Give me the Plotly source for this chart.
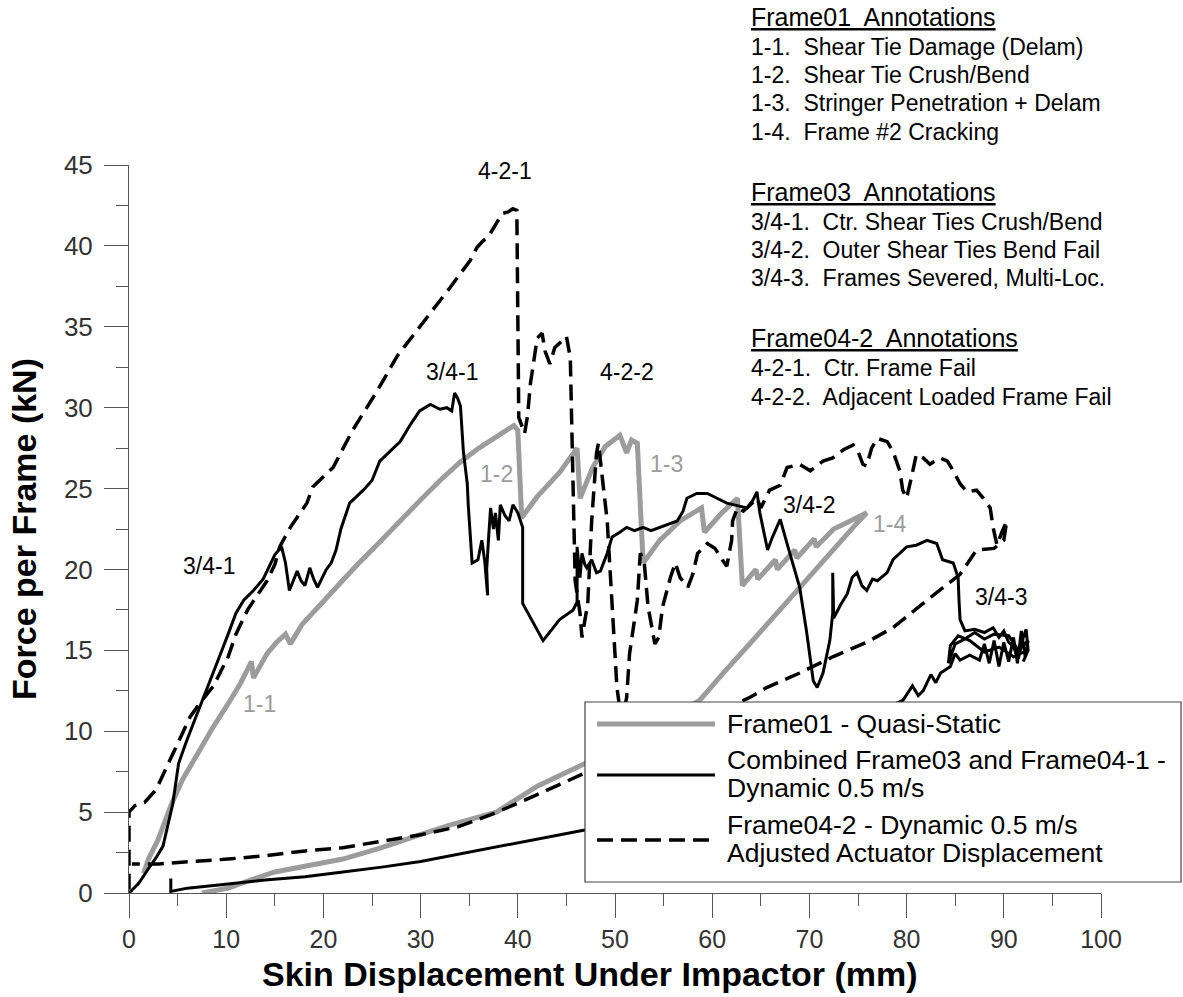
import plotly.graph_objects as go

# ---------------- data ----------------
# Frame01 - quasi-static test (loading, then unloading)
frame01_x = [1.5, 2.0, 3.0, 4.3, 5.5, 7.1, 8.6, 10.2, 11.5, 12.6,
             12.8, 14.2, 15.2, 16.1, 16.6, 17.8, 19.3, 21.7, 23.5, 25.8,
             28.0, 30.0, 32.0, 34.0, 36.0, 38.0, 39.6, 40.0, 40.4, 42.0,
             44.3, 46.1, 46.4, 47.7, 49.0, 50.5, 51.2, 51.7, 52.3, 52.6,
             52.9, 54.6, 56.7, 58.9, 59.2, 61.0, 62.6, 63.1, 64.5, 64.7,
             66.5, 66.7, 68.5, 68.7, 70.5, 70.7, 72.5, 74.2, 75.9, 74.5,
             72.0, 70.0, 67.0, 64.0, 61.0, 58.7, 55.0, 52.0, 49.0, 46.9,
             42.0, 37.8, 33.0, 29.9, 26.0, 22.0, 18.0, 15.0, 12.5, 10.2,
             7.5]
frame01_y = [1.2, 2.1, 3.3, 5.4, 7.0, 8.7, 10.2, 11.7, 13.0, 14.3,
             13.3, 14.8, 15.5, 16.0, 15.4, 16.6, 17.6, 19.1, 20.3, 21.7,
             23.1, 24.3, 25.5, 26.6, 27.5, 28.3, 28.9, 28.6, 23.2, 24.5,
             26.0, 27.5, 24.4, 26.3, 27.6, 28.3, 27.2, 28.0, 27.8, 24.0,
             20.4, 21.8, 23.0, 23.8, 22.3, 23.5, 24.4, 19.0, 20.0, 19.4,
             20.6, 20.0, 21.2, 20.7, 21.9, 21.4, 22.5, 23.0, 23.5, 22.6,
             20.9, 19.5, 17.5, 15.5, 13.5, 11.9, 10.6, 9.5, 8.6, 8.0,
             6.6, 5.0, 4.2, 3.6, 2.8, 2.1, 1.6, 1.3, 0.8, 0.3,
             0.0]

# Combined Frame03 / Frame04-1 - dynamic 0.5 m/s (None separates the reload branch)
combined_x = [0.0, 1.0, 2.0, 2.8, 3.5, 4.1, 4.5, 5.1, 5.8, 6.7,
              7.5, 8.3, 9.3, 10.2, 11.0, 11.8, 12.8, 13.8, 14.5, 15.0,
              15.7, 16.1, 16.5, 17.3, 17.7, 18.1, 18.6, 19.0, 19.4, 19.9,
              20.3, 20.8, 21.3, 21.8, 22.7, 24.1, 25.0, 25.8, 27.0, 27.9,
              29.0, 29.9, 31.0, 32.0, 32.7, 33.2, 33.5, 33.8, 34.1, 34.4,
              34.8, 34.9, 35.3, 35.9, 36.3, 36.6, 36.9, 36.8, 37.0, 37.2,
              37.5, 37.7, 38.0, 38.2, 38.7, 39.1, 39.5, 40.0, 40.5, 40.5,
              42.6, 44.3, 45.7, 46.1, 46.1, 46.4, 46.6, 46.9, 47.1, 47.6,
              48.1, 48.5, 49.2, 49.7, 50.5, 51.2, 52.0, 52.9, 53.7, 54.6,
              55.5, 56.4, 57.0, 57.4, 58.4, 59.5, 60.5, 61.5, 62.9, 63.6,
              64.2, 64.6, 64.9, 65.2, 65.7, 66.2, 67.0, 67.7, 69.0, 69.7,
              70.4, 70.8, 71.4, 72.1, 72.4, 72.4, 72.5, 73.2, 73.9, 74.4,
              74.9, 75.4, 75.9, 76.5, 77.0, 78.0, 78.6, 79.3, 80.0, 81.0,
              82.1, 83.1, 83.7, 84.8, 85.3, 85.4, 85.5, 86.0, 87.0, 88.0,
              88.9, 89.5, 90.0, 90.5, 91.0, 91.5, 92.0, 92.3, 92.5, 92.0,
              None,
              4.3, 4.3, 6.0, 8.0, 10.2, 14.0, 18.1, 22.0, 26.0, 30.0,
              33.9, 37.0, 41.7, 44.0, 46.9, 52.0, 57.0, 62.0, 67.0, 72.0,
              76.0, 78.5, 79.6, 80.6, 81.2, 81.7, 82.5, 83.0, 83.5, 84.5,
              85.0, 85.5, 86.5, 87.5, 88.0, 88.5, 89.0, 89.5, 90.0, 90.5,
              91.0, 91.4, 91.8, 92.2, 92.5, 91.5, 90.5, 89.0, 88.0, 87.0,
              86.0, 85.0, 84.3, 84.5, 85.3, 86.5, 88.0, 89.5, 91.0, 92.4]
combined_y = [0.0, 0.6, 1.5, 2.2, 2.9, 4.5, 5.5, 8.0, 9.2, 10.6,
              11.8, 13.0, 14.6, 16.0, 17.3, 18.1, 18.7, 19.4, 20.3, 20.9,
              21.4, 20.4, 18.7, 19.9, 19.3, 19.0, 20.1, 19.4, 18.9, 19.5,
              20.0, 20.4, 21.2, 22.5, 24.1, 24.9, 25.5, 26.7, 27.4, 27.9,
              29.0, 29.8, 30.2, 29.9, 30.0, 29.8, 30.9, 30.6, 30.1, 27.3,
              25.3, 24.0, 20.4, 20.6, 21.8, 20.5, 18.4, 20.0, 22.0, 23.8,
              22.5, 23.5, 21.8, 24.0, 23.3, 23.0, 24.0, 23.5, 22.6, 17.9,
              15.6, 16.9, 17.5, 18.0, 21.4, 19.5, 21.0, 20.3, 20.1, 20.6,
              19.8, 19.9, 21.0, 22.0, 22.3, 22.6, 22.4, 22.6, 22.4, 22.6,
              22.8, 23.0, 23.6, 24.4, 24.7, 24.7, 24.4, 24.1, 23.9, 23.8,
              24.3, 24.8, 23.5, 22.6, 21.2, 22.0, 23.1, 21.6, 18.9, 16.2,
              13.1, 12.7, 13.6, 15.6, 17.3, 19.8, 17.0, 17.8, 18.5, 19.5,
              19.8, 19.0, 18.7, 19.4, 19.3, 19.8, 20.6, 21.0, 21.4, 21.5,
              21.8, 21.6, 20.6, 20.4, 19.5, 18.0, 16.9, 16.2, 16.3, 16.1,
              16.4, 15.8, 16.2, 15.5, 15.2, 14.5, 15.8, 16.3, 15.0, 14.3,
              None,
              0.9, 0.1, 0.3, 0.4, 0.55, 0.8, 1.0, 1.3, 1.6, 1.95,
              2.4, 2.8, 3.3, 3.6, 3.9, 4.6, 5.5, 6.6, 7.9, 9.4,
              10.8, 11.6, 11.9, 12.8, 12.2, 12.5, 13.5, 13.0, 13.6, 14.0,
              14.8, 14.4, 14.7, 14.4, 15.4, 14.2, 15.6, 14.0, 15.5, 14.3,
              15.8, 14.2, 16.2, 14.6, 15.6, 15.0, 15.9, 16.0, 15.7, 16.1,
              15.7, 15.4, 14.2, 15.3, 15.9, 15.6, 14.9, 15.2, 14.6, 15.0]

# Frame04-2 - dynamic 0.5 m/s, adjusted actuator displacement
frame04_2_x = [0.0, 0.0, 0.6, 1.6, 2.8, 3.9, 5.1, 6.3, 7.5, 8.7,
               10.2, 11.0, 12.2, 13.2, 14.2, 15.0, 15.5, 16.6, 18.3, 18.9,
               21.0, 23.0, 25.5, 27.6, 31.0, 33.0, 35.1, 35.8, 36.4, 37.0,
               37.9, 38.4, 39.0, 39.5, 39.9, 40.0, 40.1, 40.7, 41.0, 41.3,
               41.6, 42.0, 42.5, 42.8, 43.3, 43.8, 44.5, 45.0, 45.4, 45.6,
               45.9, 46.4, 46.6, 47.2, 47.6, 48.1, 48.3, 48.8, 49.2, 49.5,
               49.8, 50.2, 50.7, 51.2, 51.5, 52.3, 52.6, 53.0, 53.4, 54.1,
               54.5, 54.9, 55.7, 56.2, 56.7, 57.5, 58.0, 58.5, 59.5, 60.3,
               60.8, 61.5, 62.0, 62.1, 62.6, 63.2, 64.1, 64.6, 65.0, 65.9,
               67.0, 67.7, 69.0, 70.1, 71.4, 72.4, 73.5, 74.5, 75.0, 75.5,
               75.9, 76.4, 77.0, 78.0, 78.6, 79.3, 79.6, 80.0, 80.5, 81.0,
               81.7, 82.4, 83.4, 84.2, 84.8, 85.5, 86.2, 87.2, 87.9, 88.6,
               88.9, 89.3, 89.8, 90.3, 90.0, 89.0, 87.2, 85.5, 82.1, 78.6,
               75.9, 72.4, 69.0, 65.6, 63.9, 58.0, 52.0, 46.9, 41.7, 37.5,
               33.9, 30.0, 26.0, 22.0, 18.1, 14.0, 10.2, 6.0, 3.1, 0.3]
frame04_2_y = [0.2, 5.0, 5.4, 5.6, 6.4, 7.8, 9.3, 10.9, 11.9, 12.8,
               14.6, 16.0, 17.5, 18.4, 19.3, 20.3, 21.4, 22.6, 24.1, 25.1,
               26.3, 28.6, 31.0, 33.2, 35.8, 37.4, 39.1, 39.9, 40.3, 40.6,
               41.5, 42.0, 42.1, 42.3, 42.2, 33.1, 29.4, 28.4, 29.5, 31.5,
               32.7, 34.3, 34.6, 33.5, 32.7, 33.7, 34.1, 34.4, 33.1, 27.3,
               19.3, 17.3, 15.8, 17.9, 23.0, 27.2, 27.8, 25.1, 23.0, 19.9,
               16.8, 12.7, 10.5, 12.1, 14.8, 18.1, 21.0, 20.5, 17.7, 15.4,
               15.8, 17.7, 19.5, 20.4, 19.5, 18.9, 19.7, 21.0, 21.6, 21.3,
               20.8, 20.2, 21.8, 23.0, 23.8, 23.6, 24.1, 24.4, 23.8, 24.9,
               25.2, 26.3, 26.5, 26.1, 26.7, 26.9, 27.4, 27.7, 27.3, 26.5,
               26.4, 27.5, 28.1, 27.9, 27.3, 26.1, 24.9, 24.4, 25.7, 27.1,
               26.9, 26.5, 26.9, 26.7, 26.1, 25.3, 24.8, 24.9, 24.4, 23.8,
               22.6, 21.5, 22.3, 23.0, 21.8, 21.3, 21.2, 19.7, 18.1, 16.4,
               15.5, 14.6, 13.6, 12.7, 12.1, 10.4, 8.8, 7.4, 6.0, 4.9,
               4.1, 3.6, 3.2, 2.8, 2.6, 2.3, 2.1, 1.9, 1.8, 1.8]

series_names = ["Frame01 - Quasi-Static",
                "Combined Frame03 and Frame04-1 -<br>Dynamic 0.5 m/s",
                "Frame04-2 - Dynamic 0.5 m/s<br>Adjusted Actuator Displacement"]

# event labels placed on the curves: (text, x, y, colour group)
event_labels = [("4-2-1", 38.7, 44.6, "k"), ("3/4-1", 33.2, 32.2, "k"),
                ("4-2-2", 51.2, 32.2, "k"), ("3/4-1", 8.2, 20.2, "k"),
                ("1-2", 37.8, 25.9, "g"), ("1-3", 55.3, 26.5, "g"),
                ("3/4-2", 70.0, 24.0, "k"), ("1-4", 78.2, 22.8, "g"),
                ("3/4-3", 89.7, 18.3, "k"), ("1-1", 13.4, 11.7, "g")]

# annotation key text block (heading lines are underlined)
key_lines = [("Frame01  Annotations", True, 17),
             ("1-1.  Shear Tie Damage (Delam)", False, 47),
             ("1-2.  Shear Tie Crush/Bend", False, 75),
             ("1-3.  Stringer Penetration + Delam", False, 103),
             ("1-4.  Frame #2 Cracking", False, 132),
             ("Frame03  Annotations", True, 192),
             ("3/4-1.  Ctr. Shear Ties Crush/Bend", False, 222),
             ("3/4-2.  Outer Shear Ties Bend Fail", False, 250),
             ("3/4-3.  Frames Severed, Multi-Loc.", False, 278),
             ("Frame04-2  Annotations", True, 338),
             ("4-2-1.  Ctr. Frame Fail", False, 368),
             ("4-2-2.  Adjacent Loaded Frame Fail", False, 397)]

x_title = "Skin Displacement Under Impactor (mm)"
y_title = "Force per Frame (kN)"

# ---------------- styling ----------------
W, H = 1183, 997
L, R, T, B = 129, 82, 165, 104
PW, PH = W - L - R, H - T - B
FONT = "Liberation Sans, Arial, sans-serif"
GRAY = "#9c9c9c"
AXIS = "#555555"
DASH = "16px,8px"


def px(xp):
    return (xp - L) / PW


def py(yp):
    return (T + PH - yp) / PH


fig = go.Figure()
fig.add_trace(go.Scatter(x=frame01_x, y=frame01_y, mode="lines", name=series_names[0],
                         line=dict(color=GRAY, width=5)))
fig.add_trace(go.Scatter(x=combined_x, y=combined_y, mode="lines", name=series_names[1],
                         line=dict(color="black", width=3), connectgaps=False))
fig.add_trace(go.Scatter(x=frame04_2_x, y=frame04_2_y, mode="lines", name=series_names[2],
                         line=dict(color="black", width=3.5, dash=DASH)))

axis_common = dict(showgrid=False, zeroline=False, showline=True, linecolor=AXIS, linewidth=1,
                   ticks="outside", ticklen=24, tickwidth=1, tickcolor=AXIS)
fig.update_xaxes(range=[0, 100], dtick=10, tick0=0,
                 tickfont=dict(family=FONT, size=25, color="#333333"),
                 minor=dict(dtick=5, ticks="outside", ticklen=12, tickcolor=AXIS, showgrid=False),
                 **axis_common)
fig.update_yaxes(range=[0, 45], dtick=5, tick0=0, ticklabelstandoff=6,
                 tickfont=dict(family=FONT, size=26, color="#333333"),
                 minor=dict(dtick=2.5, ticks="outside", ticklen=12, tickcolor=AXIS, showgrid=False),
                 title=dict(text=f"<b>{y_title}</b>",
                            font=dict(family=FONT, size=34, color="black"), standoff=16),
                 **axis_common)

annotations = []
# x-axis title, centred a little left of the axis midpoint
annotations.append(dict(x=px(590), y=py(974), xref="paper", yref="paper",
                        xanchor="center", yanchor="middle", showarrow=False,
                        text=f"<b>{x_title}</b>",
                        font=dict(family=FONT, size=34, color="black")))

for text, x, y, grp in event_labels:
    annotations.append(dict(x=x, y=y, xref="x", yref="y", text=text, showarrow=False,
                            font=dict(family=FONT, size=23,
                                      color=GRAY if grp == "g" else "black")))

for text, heading, yp in key_lines:
    t = text.replace("  ", "\u00a0 ")
    annotations.append(dict(x=px(749), y=py(yp), xref="paper", yref="paper",
                            xanchor="left", yanchor="middle", showarrow=False,
                            text=f"<u>{t}</u>" if heading else t,
                            font=dict(family=FONT, size=25 if heading else 23, color="black")))

# legend box drawn as shapes + text rows
shapes = [dict(type="rect", xref="paper", yref="paper", x0=px(585), x1=px(1181),
               y0=py(882), y1=py(702), fillcolor="white", line=dict(color="#444444", width=1.2),
               layer="above")]
sample_styles = [dict(color=GRAY, width=5), dict(color="black", width=3),
                 dict(color="black", width=3.5, dash=DASH)]
sample_rows = [724, 775, 840]
for st, yp in zip(sample_styles, sample_rows):
    shapes.append(dict(type="line", xref="paper", yref="paper", x0=px(597), x1=px(715),
                       y0=py(yp), y1=py(yp), line=st, layer="above"))

legend_rows = [(series_names[0], [724]),
               (series_names[1], [760, 788]),
               (series_names[2], [825, 853])]
for name, rows in legend_rows:
    for part, yp in zip(name.split("<br>"), rows):
        annotations.append(dict(x=px(725), y=py(yp), xref="paper", yref="paper",
                                xanchor="left", yanchor="middle", showarrow=False, text=part,
                                font=dict(family=FONT, size=26.5, color="black")))

fig.update_layout(width=W, height=H, margin=dict(l=L, r=R, t=T, b=B),
                  plot_bgcolor="white", paper_bgcolor="white", showlegend=False,
                  font=dict(family=FONT), annotations=annotations, shapes=shapes)

fig.write_html("out.html")
